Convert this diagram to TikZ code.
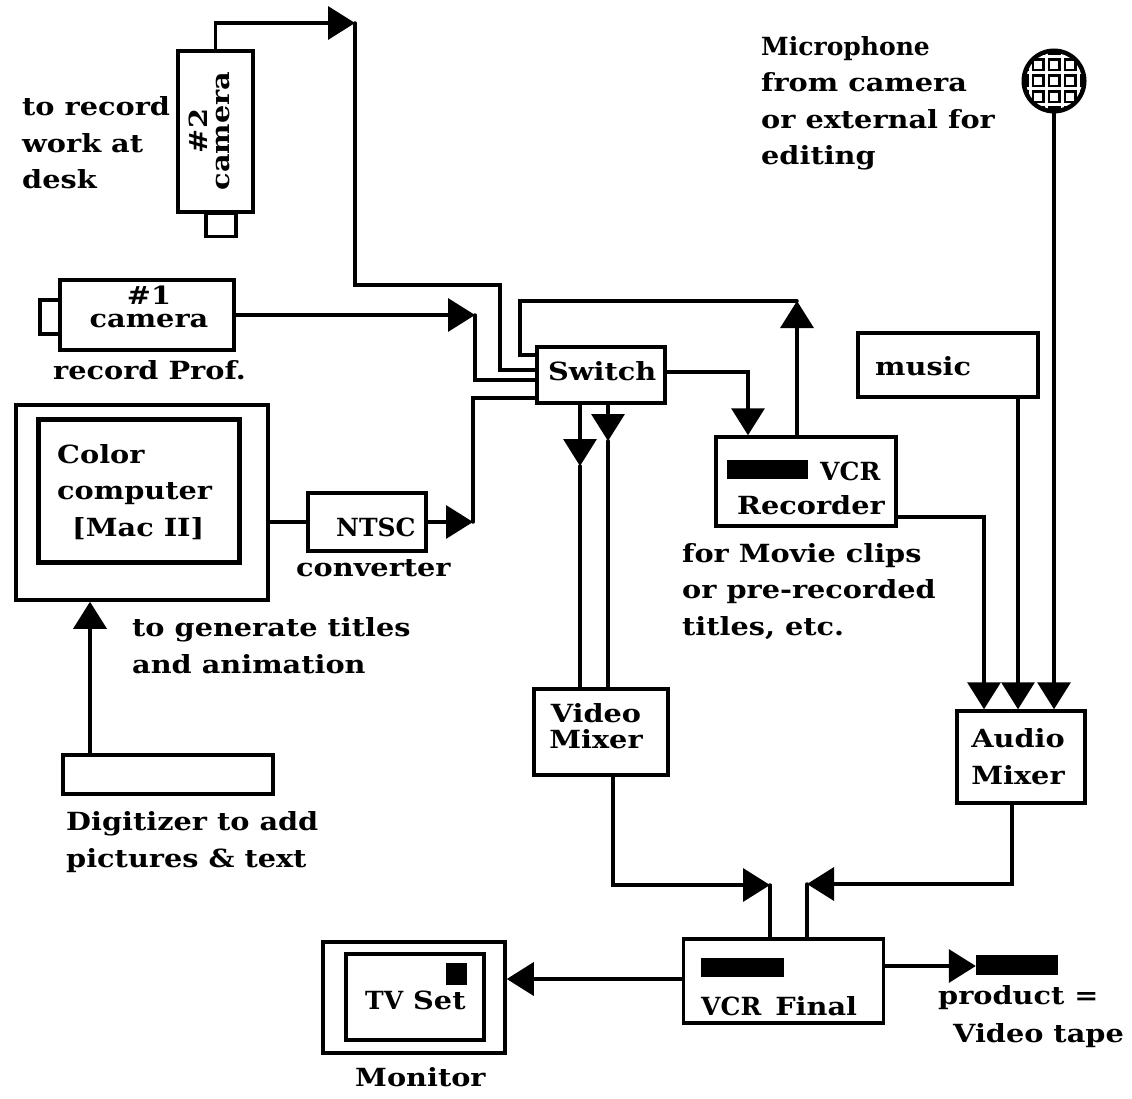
\documentclass[tikz,border=0pt]{standalone}
\usepackage{fontspec}
\setmainfont{DejaVu Serif}[FakeStretch=1.15]
\newfontfamily\narrowfont{DejaVu Serif}
\usetikzlibrary{arrows.meta}
\newcommand{\tightword}[1]{{\narrowfont\bfseries #1}}
\tikzset{
  unit/.style={draw, line width=3.5pt, inner sep=0pt},
  bar/.style={fill=black, inner sep=0pt},
  wire/.style={line width=3.5pt, line cap=round, line join=miter},
  feed/.style={wire, -{Triangle[length=27pt,width=33pt]}},
  word/.style={anchor=base west, inner sep=0pt, align=left, font=\bfseries\fontsize{25}{36.5}\selectfont},
  midword/.style={word, anchor=base, align=center}
}
\begin{document}
\begin{tikzpicture}[x=1pt,y=-1pt]
  \useasboundingbox (0,0) rectangle (1132,1099);
  % units
  \node[unit, minimum width=75pt, minimum height=161pt] (camtwo) at (215.5,131.5) {};
  \node[unit, minimum width=30pt, minimum height=23pt] (lenstwo) at (221,225) {};
  \node[unit, minimum width=174pt, minimum height=70pt] (camone) at (147,315) {};
  \node[unit, minimum width=20pt, minimum height=34pt] (lensone) at (50,317) {};
  \node[unit, minimum width=128pt, minimum height=56pt] (switch) at (601,375) {};
  \node[unit, minimum width=180pt, minimum height=89pt] (recorder) at (806,481.5) {};
  \node[bar, minimum width=81pt, minimum height=19pt] (recbar) at (767.5,469.5) {};
  \node[unit, minimum width=180pt, minimum height=64pt] (music) at (948,365) {};
  \node[unit, minimum width=252pt, minimum height=195pt] (computer) at (142,502.5) {};
  \node[unit, line width=5pt, minimum width=201pt, minimum height=143pt] (screen) at (138.5,490.5) {};
  \node[unit, minimum width=118pt, minimum height=58pt] (ntsc) at (367,522) {};
  \node[unit, minimum width=210pt, minimum height=39pt] (digitizer) at (168,774.5) {};
  \node[unit, minimum width=134pt, minimum height=86pt] (videomix) at (601,732) {};
  \node[unit, minimum width=128pt, minimum height=92pt] (audiomix) at (1021,757) {};
  \node[unit, minimum width=200pt, minimum height=84pt] (final) at (783.5,981) {};
  \node[bar, minimum width=83pt, minimum height=19pt] (finalbar) at (742.5,967.5) {};
  \node[bar, minimum width=82pt, minimum height=20pt] (tape) at (1017,965) {};
  \node[unit, minimum width=182pt, minimum height=111pt] (monitor) at (414,997.5) {};
  \node[unit, line width=4pt, minimum width=138pt, minimum height=86pt] (tvscreen) at (415,997) {};
  \node[bar, minimum width=21pt, minimum height=22pt] (tvknob) at (456.5,974) {};
  % microphone
  \fill (1054,81) circle (32.5);
  \begin{scope}
    \clip (1054,81) circle (28);
    \foreach \d in {-24,-8,8,24} {
      \fill[white] (1054+\d-1.5,40) rectangle (1054+\d+1.5,122);
      \fill[white] (1015,81+\d-1.5) rectangle (1093,81+\d+1.5);
    }
    \foreach \a in {-16,0,16} {
      \foreach \b in {-16,0,16} {
        \fill[white] (1054+\a-4,81+\b-4) rectangle (1054+\a+4,81+\b+4);
      }
    }
  \end{scope}
  \coordinate (mic) at (1054,113);
  % corners where a line goes on behind an arrow head
  \coordinate (twotip) at (355,23);
  \coordinate (onetip) at (475,315);
  \coordinate (ntsctip) at (473,522);
  \coordinate (looptip) at (797,301);
  \coordinate (videotip) at (770,885);
  \coordinate (audiotip) at (807,884);
  % wires
  \draw[feed] (camtwo.north) |- (twotip);
  \draw[wire] (twotip) -- (355,285) -- (500,285) -- (500,370) -- (switch.west |- 0,370);
  \draw[feed] (camone.east) -- (onetip);
  \draw[wire] (onetip) -- (475,380) -- (switch.west |- 0,380);
  \draw[wire] (computer.east |- ntsc.west) -- (ntsc.west);
  \draw[feed] (ntsc.east) -- (ntsctip);
  \draw[wire] (ntsctip) -- (473,398) -- (switch.west |- 0,398);
  \draw[wire] (switch.west |- 0,355) -- (520,355) -- (520,301) -- (looptip);
  \draw[feed] (recorder.north -| looptip) -- (looptip);
  \draw[feed] (switch.east |- 0,372) -| (recorder.north -| 748,0);
  \draw[feed] (switch.south -| 580,0) -- (580,466);
  \draw[wire] (580,466) -- (videomix.north -| 580,0);
  \draw[feed] (switch.south -| 608,0) -- (608,441);
  \draw[wire] (608,441) -- (videomix.north -| 608,0);
  \draw[feed] (recorder.east |- 0,517) -| (audiomix.north -| 984,0);
  \draw[feed] (music.south -| 1018,0) -- (audiomix.north -| 1018,0);
  \draw[feed] (mic) -- (audiomix.north -| mic);
  \draw[feed] (digitizer.north -| 90,0) -- (computer.south -| 90,0);
  \draw[feed] (videomix.south -| 613,0) |- (videotip);
  \draw[wire] (videotip) -- (final.north -| videotip);
  \draw[feed] (audiomix.south -| 1012,0) |- (audiotip);
  \draw[wire] (audiotip) -- (final.north -| audiotip);
  \draw[feed] (final.east |- 0,966) -- (tape.west |- 0,966);
  \draw[feed] (final.west |- 0,979) -- (monitor.east |- 0,979);
  % labels
  \node[word] (deskword) at (22,189) {to record\\work at\\desk};
  \node[midword, rotate=90] (twoword) at (229,131) {\#2\hspace{16pt}\\[-15pt]camera};
  \node[midword] (oneword) at (149,327) {\#1\\[-14pt]camera};
  \node[word] (profword) at (53,379) {record Prof.};
  \node[word] (micword) at (761,165) {\tightword{Microphone}\\from camera\\or external for\\editing};
  \node[word] (switchword) at (548,380) {Switch};
  \node[word] (musicword) at (875,375) {music};
  \node[word] (vcrword) at (820,480) {\tightword{VCR}};
  \node[word] (recword) at (737,514) {Recorder};
  \node[word] (clipword) at (682,635) {for Movie clips\\or pre-recorded\\titles, etc.};
  \node[word] (colorword) at (57,536) {Color\\computer\\\hspace*{15pt}{[Mac II]}};
  \node[word] (ntscword) at (336,536) {\tightword{NTSC}};
  \node[word] (convword) at (296,576) {converter};
  \node[word] (titleword) at (132,673) {to generate titles\\and animation};
  \node[word] (digiword) at (66,867) {Digitizer to add\\pictures \& text};
  \node[midword] (videoword) at (596,748) {Video\\[-10.5pt]Mixer};
  \node[midword] (audioword) at (1018,784) {Audio\\[0pt]Mixer};
  \node[word] (finalword) at (701,1015) {\tightword{VCR}\hspace{14pt}Final};
  \node[word] (prodword) at (938,1042) {product =\\[1.5pt]\hspace*{15pt}Video tape};
  \node[word] (tvword) at (365,1009) {\tightword{TV} Set};
  \node[word] (monword) at (355,1086) {Monitor};
\end{tikzpicture}
\end{document}
